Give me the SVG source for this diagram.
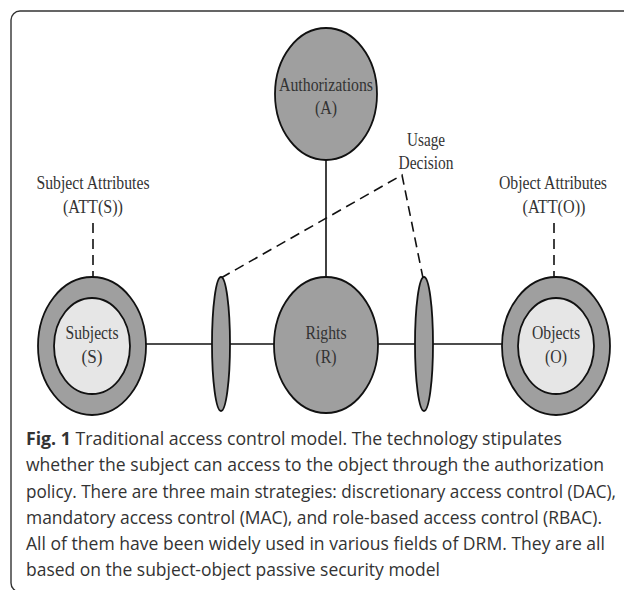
<svg xmlns="http://www.w3.org/2000/svg" width="624" height="590" viewBox="0 0 624 590">
<style>
.frame{fill:none;stroke:#333;stroke-width:1.4}
.dark{fill:#9f9f9f;stroke:#111;stroke-width:1.8}
.light{fill:#e6e6e6;stroke:#111;stroke-width:1.8}
.ln{stroke:#111;stroke-width:1.6;fill:none}
.dash{stroke:#111;stroke-width:1.6;fill:none;stroke-dasharray:10 6}
.lbl{font-family:"Liberation Serif","Times New Roman",serif;font-size:19.5px;fill:#333;text-anchor:middle}
.cap{font-family:"Open Sans","Noto Sans",sans-serif;font-size:17.5px;fill:#333}
.b{font-weight:bold}
</style>
<rect class="frame" x="11" y="11" width="640" height="581" rx="9"/>
<g id="connectors">
<line class="ln" x1="326" y1="160" x2="326" y2="277"/>
<line class="ln" x1="146" y1="344" x2="502" y2="344"/>
<line class="dash" x1="93" y1="223" x2="93" y2="277"/>
<line class="dash" x1="554" y1="223" x2="554" y2="277"/>
<polyline class="dash" points="221,278 402,175 423,278"/>
</g>
<g id="authorizations">
<ellipse class="dark" cx="326" cy="94" rx="51" ry="66"/>
<text class="lbl" x="326" y="91" textLength="94" lengthAdjust="spacingAndGlyphs">Authorizations</text>
<text class="lbl" x="326" y="114" textLength="22" lengthAdjust="spacingAndGlyphs">(A)</text>
</g>
<g id="usage-decision">
<text class="lbl" x="426" y="146" textLength="38" lengthAdjust="spacingAndGlyphs">Usage</text>
<text class="lbl" x="426" y="169" textLength="55" lengthAdjust="spacingAndGlyphs">Decision</text>
</g>
<g id="subject-attributes">
<text class="lbl" x="93" y="189" textLength="113" lengthAdjust="spacingAndGlyphs">Subject Attributes</text>
<text class="lbl" x="93" y="213" textLength="60" lengthAdjust="spacingAndGlyphs">(ATT(S))</text>
</g>
<g id="object-attributes">
<text class="lbl" x="553" y="189" textLength="108" lengthAdjust="spacingAndGlyphs">Object Attributes</text>
<text class="lbl" x="554" y="213" textLength="63" lengthAdjust="spacingAndGlyphs">(ATT(O))</text>
</g>
<g id="subjects">
<ellipse class="dark" cx="92" cy="346" rx="54" ry="69"/>
<ellipse class="light" cx="92" cy="346" rx="38" ry="48"/>
<text class="lbl" x="92" y="339" textLength="53" lengthAdjust="spacingAndGlyphs">Subjects</text>
<text class="lbl" x="92" y="363" textLength="21" lengthAdjust="spacingAndGlyphs">(S)</text>
</g>
<g id="filter-left">
<ellipse class="dark" cx="221" cy="344" rx="9" ry="67"/>
</g>
<g id="rights">
<ellipse class="dark" cx="326" cy="345" rx="52" ry="68"/>
<text class="lbl" x="326" y="339" textLength="41" lengthAdjust="spacingAndGlyphs">Rights</text>
<text class="lbl" x="326" y="363" textLength="21" lengthAdjust="spacingAndGlyphs">(R)</text>
</g>
<g id="filter-right">
<ellipse class="dark" cx="424" cy="344" rx="9" ry="67"/>
</g>
<g id="objects">
<ellipse class="dark" cx="556" cy="346" rx="54" ry="69"/>
<ellipse class="light" cx="556" cy="346" rx="38" ry="48"/>
<text class="lbl" x="556" y="339" textLength="48" lengthAdjust="spacingAndGlyphs">Objects</text>
<text class="lbl" x="556" y="363" textLength="22" lengthAdjust="spacingAndGlyphs">(O)</text>
</g>
<g id="caption">
<text class="cap" x="26" y="445" textLength="536" lengthAdjust="spacingAndGlyphs"><tspan class="b">Fig. 1</tspan> Traditional access control model. The technology stipulates</text>
<text class="cap" x="26" y="471" textLength="578" lengthAdjust="spacingAndGlyphs">whether the subject can access to the object through the authorization</text>
<text class="cap" x="26" y="498" textLength="590" lengthAdjust="spacingAndGlyphs">policy. There are three main strategies: discretionary access control (DAC),</text>
<text class="cap" x="26" y="524" textLength="576" lengthAdjust="spacingAndGlyphs">mandatory access control (MAC), and role-based access control (RBAC).</text>
<text class="cap" x="26" y="550" textLength="579" lengthAdjust="spacingAndGlyphs">All of them have been widely used in various fields of DRM. They are all</text>
<text class="cap" x="26" y="576" textLength="414" lengthAdjust="spacingAndGlyphs">based on the subject-object passive security model</text>
</g>
</svg>
